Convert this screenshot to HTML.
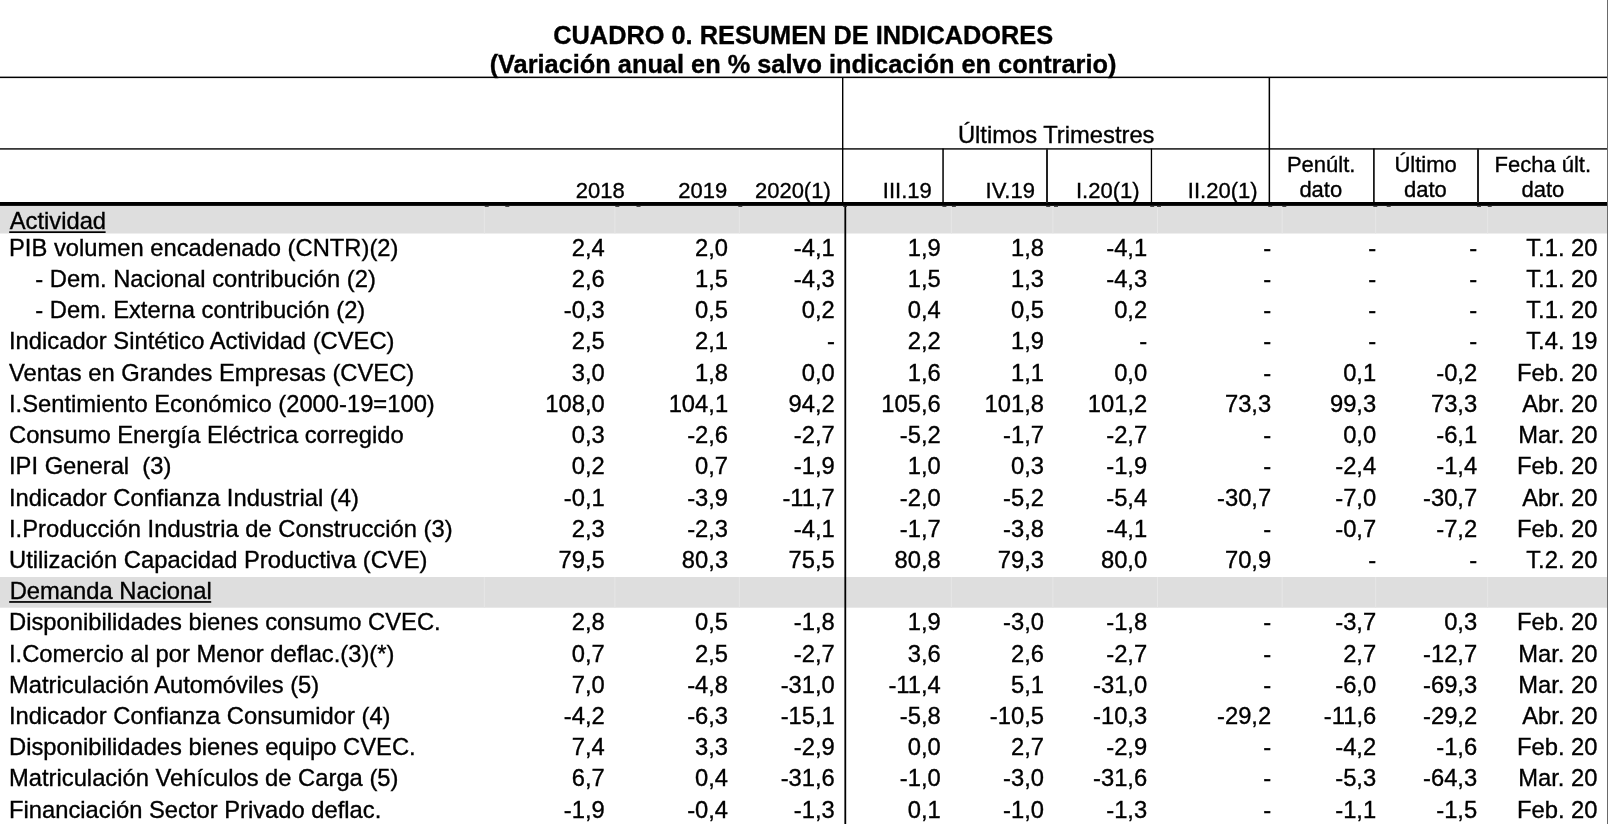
<!DOCTYPE html>
<html><head><meta charset="utf-8"><title>Cuadro 0</title>
<style>
html,body{margin:0;padding:0;background:#fff;width:1608px;height:824px;overflow:hidden}
svg{display:block;will-change:transform}
text{font-family:"Liberation Sans",sans-serif;font-size:23.75px;fill:#000;stroke:#000;stroke-width:0.35px}
text.t{font-weight:bold;font-size:25.35px}
text.h{font-size:22.0px}
</style></head><body>
<svg width="1608" height="824" viewBox="0 0 1608 824">
<rect x="0" y="206" width="1607" height="27.5" fill="#dedede"/>
<rect x="0" y="577" width="1607" height="30.7" fill="#dedede"/>
<rect x="483.8" y="206" width="1" height="27.5" fill="#e7e7e7"/>
<rect x="483.8" y="577" width="1" height="30.7" fill="#e7e7e7"/>
<rect x="614.4" y="206" width="1" height="27.5" fill="#e7e7e7"/>
<rect x="614.4" y="577" width="1" height="30.7" fill="#e7e7e7"/>
<rect x="738.8" y="206" width="1" height="27.5" fill="#e7e7e7"/>
<rect x="738.8" y="577" width="1" height="30.7" fill="#e7e7e7"/>
<rect x="950.8" y="206" width="1" height="27.5" fill="#e7e7e7"/>
<rect x="950.8" y="577" width="1" height="30.7" fill="#e7e7e7"/>
<rect x="1052.4" y="206" width="1" height="27.5" fill="#e7e7e7"/>
<rect x="1052.4" y="577" width="1" height="30.7" fill="#e7e7e7"/>
<rect x="1157.0" y="206" width="1" height="27.5" fill="#e7e7e7"/>
<rect x="1157.0" y="577" width="1" height="30.7" fill="#e7e7e7"/>
<rect x="1281.7" y="206" width="1" height="27.5" fill="#e7e7e7"/>
<rect x="1281.7" y="577" width="1" height="30.7" fill="#e7e7e7"/>
<rect x="1375.2" y="206" width="1" height="27.5" fill="#e7e7e7"/>
<rect x="1375.2" y="577" width="1" height="30.7" fill="#e7e7e7"/>
<rect x="1487.2" y="206" width="1" height="27.5" fill="#e7e7e7"/>
<rect x="1487.2" y="577" width="1" height="30.7" fill="#e7e7e7"/>
<rect x="0" y="76.6" width="1607" height="1.5" fill="#000"/>
<rect x="0" y="148.1" width="1607" height="1.6" fill="#222"/>
<rect x="0" y="202" width="1607" height="3.9" fill="#000"/>
<rect x="842.0" y="77.0" width="1.4" height="126.0" fill="#000"/>
<rect x="942.3" y="148.5" width="1.5" height="54.5" fill="#000"/>
<rect x="1046.0" y="148.5" width="2.0" height="54.5" fill="#222"/>
<rect x="1150.8" y="148.5" width="1.3" height="54.5" fill="#000"/>
<rect x="1268.6" y="77.0" width="1.5" height="126.0" fill="#000"/>
<rect x="1373.1" y="148.5" width="1.6" height="54.5" fill="#000"/>
<rect x="1477.0" y="148.5" width="2.0" height="54.5" fill="#222"/>
<rect x="844.4" y="205" width="1.8" height="619" fill="#000"/>
<rect x="1607" y="0" width="1" height="824" fill="#6a6a6a"/>
<rect x="484.7" y="205.5" width="4" height="1.3" fill="#222"/>
<rect x="505.3" y="205.5" width="4" height="1.3" fill="#222"/>
<rect x="615.3" y="205.5" width="4" height="1.3" fill="#222"/>
<rect x="636.5" y="205.5" width="4" height="1.3" fill="#222"/>
<rect x="738.3" y="205.5" width="4" height="1.3" fill="#222"/>
<rect x="843.0" y="205.5" width="4" height="1.3" fill="#222"/>
<rect x="942.4" y="205.5" width="4" height="1.3" fill="#222"/>
<rect x="951.9" y="205.5" width="4" height="1.3" fill="#222"/>
<rect x="1046.2" y="205.5" width="4" height="1.3" fill="#222"/>
<rect x="1054.0" y="205.5" width="4" height="1.3" fill="#222"/>
<rect x="1150.2" y="205.5" width="4" height="1.3" fill="#222"/>
<rect x="1157.0" y="205.5" width="4" height="1.3" fill="#222"/>
<rect x="1268.2" y="205.5" width="4" height="1.3" fill="#222"/>
<rect x="1282.3" y="205.5" width="4" height="1.3" fill="#222"/>
<rect x="1373.3" y="205.5" width="4" height="1.3" fill="#222"/>
<rect x="1386.7" y="205.5" width="4" height="1.3" fill="#222"/>
<rect x="1477.0" y="205.5" width="4" height="1.3" fill="#222"/>
<rect x="1487.7" y="205.5" width="4" height="1.3" fill="#222"/>
<text x="803.2" y="43.9" text-anchor="middle" class="t">CUADRO 0. RESUMEN DE INDICADORES</text>
<text x="803.0" y="73.1" text-anchor="middle" class="t">(Variación anual en % salvo indicación en contrario)</text>
<text x="1056.2" y="142.6" text-anchor="middle">Últimos Trimestres</text>
<text x="600.30" y="197.6" text-anchor="middle" class="h">2018</text>
<text x="702.65" y="197.6" text-anchor="middle" class="h">2019</text>
<text x="792.85" y="197.6" text-anchor="middle" class="h">2020(1)</text>
<text x="907.30" y="197.6" text-anchor="middle" class="h">III.19</text>
<text x="1010.25" y="197.6" text-anchor="middle" class="h">IV.19</text>
<text x="1107.80" y="197.6" text-anchor="middle" class="h">I.20(1)</text>
<text x="1222.70" y="197.6" text-anchor="middle" class="h">II.20(1)</text>
<text x="1321.20" y="171.9" text-anchor="middle" class="h">Penúlt.</text>
<text x="1320.80" y="197.4" text-anchor="middle" class="h">dato</text>
<text x="1425.60" y="171.9" text-anchor="middle" class="h">Último</text>
<text x="1425.40" y="197.4" text-anchor="middle" class="h">dato</text>
<text x="1542.80" y="171.9" text-anchor="middle" class="h">Fecha últ.</text>
<text x="1542.90" y="197.4" text-anchor="middle" class="h">dato</text>
<text x="9.7" y="228.6">Actividad</text>
<rect x="9.2" y="231.3" width="96.4" height="1.7" fill="#000"/>
<text x="9.0" y="255.7">PIB volumen encadenado (CNTR)(2)</text>
<text x="604.8" y="255.7" text-anchor="end">2,4</text>
<text x="728.1" y="255.7" text-anchor="end">2,0</text>
<text x="834.8" y="255.7" text-anchor="end">-4,1</text>
<text x="940.8" y="255.7" text-anchor="end">1,9</text>
<text x="1044.0" y="255.7" text-anchor="end">1,8</text>
<text x="1147.2" y="255.7" text-anchor="end">-4,1</text>
<text x="1271.2" y="255.7" text-anchor="end">-</text>
<text x="1376.2" y="255.7" text-anchor="end">-</text>
<text x="1477.2" y="255.7" text-anchor="end">-</text>
<text x="1597.5" y="255.7" text-anchor="end">T.1. 20</text>
<text x="35.3" y="286.9">- Dem. Nacional contribución (2)</text>
<text x="604.8" y="286.9" text-anchor="end">2,6</text>
<text x="728.1" y="286.9" text-anchor="end">1,5</text>
<text x="834.8" y="286.9" text-anchor="end">-4,3</text>
<text x="940.8" y="286.9" text-anchor="end">1,5</text>
<text x="1044.0" y="286.9" text-anchor="end">1,3</text>
<text x="1147.2" y="286.9" text-anchor="end">-4,3</text>
<text x="1271.2" y="286.9" text-anchor="end">-</text>
<text x="1376.2" y="286.9" text-anchor="end">-</text>
<text x="1477.2" y="286.9" text-anchor="end">-</text>
<text x="1597.5" y="286.9" text-anchor="end">T.1. 20</text>
<text x="35.3" y="318.1">- Dem. Externa contribución (2)</text>
<text x="604.8" y="318.1" text-anchor="end">-0,3</text>
<text x="728.1" y="318.1" text-anchor="end">0,5</text>
<text x="834.8" y="318.1" text-anchor="end">0,2</text>
<text x="940.8" y="318.1" text-anchor="end">0,4</text>
<text x="1044.0" y="318.1" text-anchor="end">0,5</text>
<text x="1147.2" y="318.1" text-anchor="end">0,2</text>
<text x="1271.2" y="318.1" text-anchor="end">-</text>
<text x="1376.2" y="318.1" text-anchor="end">-</text>
<text x="1477.2" y="318.1" text-anchor="end">-</text>
<text x="1597.5" y="318.1" text-anchor="end">T.1. 20</text>
<text x="9.0" y="349.4">Indicador Sintético Actividad (CVEC)</text>
<text x="604.8" y="349.4" text-anchor="end">2,5</text>
<text x="728.1" y="349.4" text-anchor="end">2,1</text>
<text x="834.8" y="349.4" text-anchor="end">-</text>
<text x="940.8" y="349.4" text-anchor="end">2,2</text>
<text x="1044.0" y="349.4" text-anchor="end">1,9</text>
<text x="1147.2" y="349.4" text-anchor="end">-</text>
<text x="1271.2" y="349.4" text-anchor="end">-</text>
<text x="1376.2" y="349.4" text-anchor="end">-</text>
<text x="1477.2" y="349.4" text-anchor="end">-</text>
<text x="1597.5" y="349.4" text-anchor="end">T.4. 19</text>
<text x="9.0" y="380.6">Ventas en Grandes Empresas (CVEC)</text>
<text x="604.8" y="380.6" text-anchor="end">3,0</text>
<text x="728.1" y="380.6" text-anchor="end">1,8</text>
<text x="834.8" y="380.6" text-anchor="end">0,0</text>
<text x="940.8" y="380.6" text-anchor="end">1,6</text>
<text x="1044.0" y="380.6" text-anchor="end">1,1</text>
<text x="1147.2" y="380.6" text-anchor="end">0,0</text>
<text x="1271.2" y="380.6" text-anchor="end">-</text>
<text x="1376.2" y="380.6" text-anchor="end">0,1</text>
<text x="1477.2" y="380.6" text-anchor="end">-0,2</text>
<text x="1597.5" y="380.6" text-anchor="end">Feb. 20</text>
<text x="9.0" y="411.8">I.Sentimiento Económico (2000-19=100)</text>
<text x="604.8" y="411.8" text-anchor="end">108,0</text>
<text x="728.1" y="411.8" text-anchor="end">104,1</text>
<text x="834.8" y="411.8" text-anchor="end">94,2</text>
<text x="940.8" y="411.8" text-anchor="end">105,6</text>
<text x="1044.0" y="411.8" text-anchor="end">101,8</text>
<text x="1147.2" y="411.8" text-anchor="end">101,2</text>
<text x="1271.2" y="411.8" text-anchor="end">73,3</text>
<text x="1376.2" y="411.8" text-anchor="end">99,3</text>
<text x="1477.2" y="411.8" text-anchor="end">73,3</text>
<text x="1597.5" y="411.8" text-anchor="end">Abr. 20</text>
<text x="9.0" y="443.0">Consumo Energía Eléctrica corregido</text>
<text x="604.8" y="443.0" text-anchor="end">0,3</text>
<text x="728.1" y="443.0" text-anchor="end">-2,6</text>
<text x="834.8" y="443.0" text-anchor="end">-2,7</text>
<text x="940.8" y="443.0" text-anchor="end">-5,2</text>
<text x="1044.0" y="443.0" text-anchor="end">-1,7</text>
<text x="1147.2" y="443.0" text-anchor="end">-2,7</text>
<text x="1271.2" y="443.0" text-anchor="end">-</text>
<text x="1376.2" y="443.0" text-anchor="end">0,0</text>
<text x="1477.2" y="443.0" text-anchor="end">-6,1</text>
<text x="1597.5" y="443.0" text-anchor="end">Mar. 20</text>
<text x="9.0" y="474.2">IPI General&#160; (3)</text>
<text x="604.8" y="474.2" text-anchor="end">0,2</text>
<text x="728.1" y="474.2" text-anchor="end">0,7</text>
<text x="834.8" y="474.2" text-anchor="end">-1,9</text>
<text x="940.8" y="474.2" text-anchor="end">1,0</text>
<text x="1044.0" y="474.2" text-anchor="end">0,3</text>
<text x="1147.2" y="474.2" text-anchor="end">-1,9</text>
<text x="1271.2" y="474.2" text-anchor="end">-</text>
<text x="1376.2" y="474.2" text-anchor="end">-2,4</text>
<text x="1477.2" y="474.2" text-anchor="end">-1,4</text>
<text x="1597.5" y="474.2" text-anchor="end">Feb. 20</text>
<text x="9.0" y="505.5">Indicador Confianza Industrial (4)</text>
<text x="604.8" y="505.5" text-anchor="end">-0,1</text>
<text x="728.1" y="505.5" text-anchor="end">-3,9</text>
<text x="834.8" y="505.5" text-anchor="end">-11,7</text>
<text x="940.8" y="505.5" text-anchor="end">-2,0</text>
<text x="1044.0" y="505.5" text-anchor="end">-5,2</text>
<text x="1147.2" y="505.5" text-anchor="end">-5,4</text>
<text x="1271.2" y="505.5" text-anchor="end">-30,7</text>
<text x="1376.2" y="505.5" text-anchor="end">-7,0</text>
<text x="1477.2" y="505.5" text-anchor="end">-30,7</text>
<text x="1597.5" y="505.5" text-anchor="end">Abr. 20</text>
<text x="9.0" y="536.7">I.Producción Industria de Construcción (3)</text>
<text x="604.8" y="536.7" text-anchor="end">2,3</text>
<text x="728.1" y="536.7" text-anchor="end">-2,3</text>
<text x="834.8" y="536.7" text-anchor="end">-4,1</text>
<text x="940.8" y="536.7" text-anchor="end">-1,7</text>
<text x="1044.0" y="536.7" text-anchor="end">-3,8</text>
<text x="1147.2" y="536.7" text-anchor="end">-4,1</text>
<text x="1271.2" y="536.7" text-anchor="end">-</text>
<text x="1376.2" y="536.7" text-anchor="end">-0,7</text>
<text x="1477.2" y="536.7" text-anchor="end">-7,2</text>
<text x="1597.5" y="536.7" text-anchor="end">Feb. 20</text>
<text x="9.0" y="567.9">Utilización Capacidad Productiva (CVE)</text>
<text x="604.8" y="567.9" text-anchor="end">79,5</text>
<text x="728.1" y="567.9" text-anchor="end">80,3</text>
<text x="834.8" y="567.9" text-anchor="end">75,5</text>
<text x="940.8" y="567.9" text-anchor="end">80,8</text>
<text x="1044.0" y="567.9" text-anchor="end">79,3</text>
<text x="1147.2" y="567.9" text-anchor="end">80,0</text>
<text x="1271.2" y="567.9" text-anchor="end">70,9</text>
<text x="1376.2" y="567.9" text-anchor="end">-</text>
<text x="1477.2" y="567.9" text-anchor="end">-</text>
<text x="1597.5" y="567.9" text-anchor="end">T.2. 20</text>
<text x="9.7" y="599.1">Demanda Nacional</text>
<rect x="9.2" y="601.1" width="202.0" height="1.7" fill="#000"/>
<text x="9.0" y="630.3">Disponibilidades bienes consumo CVEC.</text>
<text x="604.8" y="630.3" text-anchor="end">2,8</text>
<text x="728.1" y="630.3" text-anchor="end">0,5</text>
<text x="834.8" y="630.3" text-anchor="end">-1,8</text>
<text x="940.8" y="630.3" text-anchor="end">1,9</text>
<text x="1044.0" y="630.3" text-anchor="end">-3,0</text>
<text x="1147.2" y="630.3" text-anchor="end">-1,8</text>
<text x="1271.2" y="630.3" text-anchor="end">-</text>
<text x="1376.2" y="630.3" text-anchor="end">-3,7</text>
<text x="1477.2" y="630.3" text-anchor="end">0,3</text>
<text x="1597.5" y="630.3" text-anchor="end">Feb. 20</text>
<text x="9.0" y="661.6">I.Comercio al por Menor deflac.(3)(*)</text>
<text x="604.8" y="661.6" text-anchor="end">0,7</text>
<text x="728.1" y="661.6" text-anchor="end">2,5</text>
<text x="834.8" y="661.6" text-anchor="end">-2,7</text>
<text x="940.8" y="661.6" text-anchor="end">3,6</text>
<text x="1044.0" y="661.6" text-anchor="end">2,6</text>
<text x="1147.2" y="661.6" text-anchor="end">-2,7</text>
<text x="1271.2" y="661.6" text-anchor="end">-</text>
<text x="1376.2" y="661.6" text-anchor="end">2,7</text>
<text x="1477.2" y="661.6" text-anchor="end">-12,7</text>
<text x="1597.5" y="661.6" text-anchor="end">Mar. 20</text>
<text x="9.0" y="692.8">Matriculación Automóviles (5)</text>
<text x="604.8" y="692.8" text-anchor="end">7,0</text>
<text x="728.1" y="692.8" text-anchor="end">-4,8</text>
<text x="834.8" y="692.8" text-anchor="end">-31,0</text>
<text x="940.8" y="692.8" text-anchor="end">-11,4</text>
<text x="1044.0" y="692.8" text-anchor="end">5,1</text>
<text x="1147.2" y="692.8" text-anchor="end">-31,0</text>
<text x="1271.2" y="692.8" text-anchor="end">-</text>
<text x="1376.2" y="692.8" text-anchor="end">-6,0</text>
<text x="1477.2" y="692.8" text-anchor="end">-69,3</text>
<text x="1597.5" y="692.8" text-anchor="end">Mar. 20</text>
<text x="9.0" y="724.0">Indicador Confianza Consumidor (4)</text>
<text x="604.8" y="724.0" text-anchor="end">-4,2</text>
<text x="728.1" y="724.0" text-anchor="end">-6,3</text>
<text x="834.8" y="724.0" text-anchor="end">-15,1</text>
<text x="940.8" y="724.0" text-anchor="end">-5,8</text>
<text x="1044.0" y="724.0" text-anchor="end">-10,5</text>
<text x="1147.2" y="724.0" text-anchor="end">-10,3</text>
<text x="1271.2" y="724.0" text-anchor="end">-29,2</text>
<text x="1376.2" y="724.0" text-anchor="end">-11,6</text>
<text x="1477.2" y="724.0" text-anchor="end">-29,2</text>
<text x="1597.5" y="724.0" text-anchor="end">Abr. 20</text>
<text x="9.0" y="755.2">Disponibilidades bienes equipo CVEC.</text>
<text x="604.8" y="755.2" text-anchor="end">7,4</text>
<text x="728.1" y="755.2" text-anchor="end">3,3</text>
<text x="834.8" y="755.2" text-anchor="end">-2,9</text>
<text x="940.8" y="755.2" text-anchor="end">0,0</text>
<text x="1044.0" y="755.2" text-anchor="end">2,7</text>
<text x="1147.2" y="755.2" text-anchor="end">-2,9</text>
<text x="1271.2" y="755.2" text-anchor="end">-</text>
<text x="1376.2" y="755.2" text-anchor="end">-4,2</text>
<text x="1477.2" y="755.2" text-anchor="end">-1,6</text>
<text x="1597.5" y="755.2" text-anchor="end">Feb. 20</text>
<text x="9.0" y="786.4">Matriculación Vehículos de Carga (5)</text>
<text x="604.8" y="786.4" text-anchor="end">6,7</text>
<text x="728.1" y="786.4" text-anchor="end">0,4</text>
<text x="834.8" y="786.4" text-anchor="end">-31,6</text>
<text x="940.8" y="786.4" text-anchor="end">-1,0</text>
<text x="1044.0" y="786.4" text-anchor="end">-3,0</text>
<text x="1147.2" y="786.4" text-anchor="end">-31,6</text>
<text x="1271.2" y="786.4" text-anchor="end">-</text>
<text x="1376.2" y="786.4" text-anchor="end">-5,3</text>
<text x="1477.2" y="786.4" text-anchor="end">-64,3</text>
<text x="1597.5" y="786.4" text-anchor="end">Mar. 20</text>
<text x="9.0" y="817.7">Financiación Sector Privado deflac.</text>
<text x="604.8" y="817.7" text-anchor="end">-1,9</text>
<text x="728.1" y="817.7" text-anchor="end">-0,4</text>
<text x="834.8" y="817.7" text-anchor="end">-1,3</text>
<text x="940.8" y="817.7" text-anchor="end">0,1</text>
<text x="1044.0" y="817.7" text-anchor="end">-1,0</text>
<text x="1147.2" y="817.7" text-anchor="end">-1,3</text>
<text x="1271.2" y="817.7" text-anchor="end">-</text>
<text x="1376.2" y="817.7" text-anchor="end">-1,1</text>
<text x="1477.2" y="817.7" text-anchor="end">-1,5</text>
<text x="1597.5" y="817.7" text-anchor="end">Feb. 20</text>
</svg>
</body></html>
